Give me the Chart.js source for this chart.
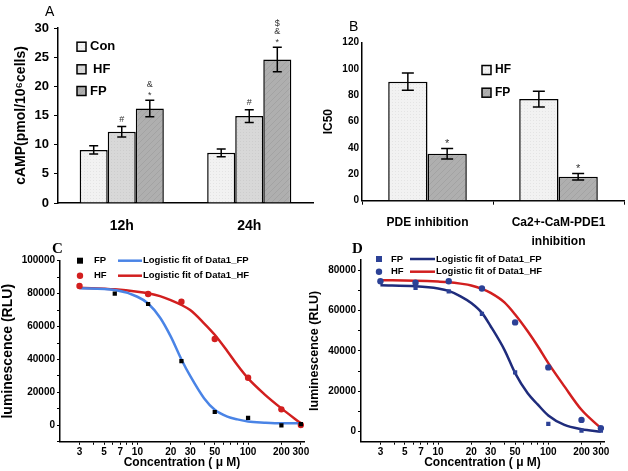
<!DOCTYPE html>
<html>
<head>
<meta charset="utf-8">
<script src="https://cdn.jsdelivr.net/npm/chart.js@4.4.0/dist/chart.umd.min.js"></script>
<style>
  body { margin: 0; background: #fff; }
  #wrap { position: relative; width: 628px; height: 471px; overflow: hidden; }
  canvas { position: absolute; }
  .tag { position: absolute; line-height: 1; color: #000; }
</style>
</head>
<body>
<div id="wrap">
  <canvas id="chartA" width="314" height="240" style="left:0;top:0"></canvas>
  <canvas id="chartB" width="314" height="250" style="left:314px;top:0"></canvas>
  <canvas id="chartC" width="314" height="231" style="left:0;top:240px"></canvas>
  <canvas id="chartD" width="328" height="231" style="left:300px;top:240px"></canvas>
  <div class="tag" style="left:45px;top:3px;font:14px 'Liberation Sans'">A</div>
  <div class="tag" style="left:349px;top:18px;font:14px 'Liberation Sans'">B</div>
  <div class="tag" style="left:52px;top:240px;font:bold 15px 'Liberation Serif'">C</div>
  <div class="tag" style="left:352px;top:240px;font:bold 15px 'Liberation Serif'">D</div>
</div>
<script>
// panel A: cAMP
const timeLabels = ['12h', '24h'];
const conMean = [9.1, 8.6];
const conErr = [0.7, 0.65];
const hfMean = [12.2, 14.9];
const hfErr = [0.9, 1.1];
const fpMean = [16.2, 24.6];
const fpErr = [1.4, 2.1];
const hfMarksA = [['#'], ['#']];
const fpMarksA = [['&', '*'], ['$', '&', '*']];

// panel B: IC50
const assayLabels = ['PDE inhibition', ['Ca2+-CaM-PDE1', 'inhibition']];
const ic50HF = [90.4, 77.2];
const ic50HFErr = [6.5, 6];
const ic50FP = [35.7, 18.2];
const ic50FPErr = [4, 2.5];
const fpMarksB = [['*'], ['*']];

// panels C and D: dose response
const conc = [3, 6.25, 12.5, 25, 50, 100, 200, 300];
const cFP = [null, 80000, 73700, 39000, 8100, 4500, 0, 800];
const cHF = [84600, null, 79800, 75100, 52400, 28900, 9700, 200];
const dFP = [74500, 71200, 69500, 58300, 29300, 3800, 500, 500];
const dHF = [74500, 73700, 74500, 70900, 54100, 31800, 5800, 1700];

// logistic fit curves
const fitConc = [3, 6.25, 10, 12.5, 16, 20, 25, 30, 40, 50, 65, 80, 100, 140, 200, 300];
const cFitFP = [83200, 82200, 78100, 74000, 65500, 54000, 40000, 30000, 16500, 9500, 5300, 3600, 2300, 1600, 1200, 1200];
const cFitHF = [83600, 82600, 81200, 80200, 78500, 76100, 73100, 70000, 62000, 55000, 45000, 36600, 28500, 19000, 10300, 1200];
const dFitFP = [72500, 72000, 70900, 69700, 67000, 63700, 58800, 52200, 40500, 29000, 19000, 13500, 8000, 3300, 1200, 0];
const dFitHF = [75000, 74700, 74300, 74000, 73300, 72400, 70700, 68700, 64000, 58000, 49700, 42400, 33900, 22400, 10800, 1700];

const logTicks = [3, 4, 5, 6, 7, 8, 9, 10, 20, 30, 40, 50, 60, 70, 80, 90, 100, 200, 300];
const logLabels = [3, 5, 7, 10, 20, 30, 50, 100, 200, 300];

const FONT = "'Liberation Sans', Arial, sans-serif";
Chart.defaults.font.family = FONT;
Chart.defaults.font.weight = 'bold';
Chart.defaults.color = '#000';
Chart.defaults.animation = false;

function makePattern(bg, fg, kind) {
  const c = document.createElement('canvas');
  c.width = c.height = kind === 'dots' ? 3 : 6;
  const g = c.getContext('2d');
  g.fillStyle = bg;
  g.fillRect(0, 0, c.width, c.height);
  if (kind === 'dots') {
    g.fillStyle = fg;
    g.fillRect(0, 0, 1, 1);
  } else {
    g.strokeStyle = fg;
    g.lineWidth = 1;
    g.beginPath();
    g.moveTo(0, 6); g.lineTo(6, 0);
    g.moveTo(-1, 1); g.lineTo(1, -1);
    g.moveTo(5, 7); g.lineTo(7, 5);
    g.stroke();
  }
  return g.createPattern(c, 'repeat');
}
const patLight = makePattern('#f2f2f2', '#e4e4e4', 'dots');
const patMid = makePattern('#d8d8d8', '#cdcdcd', 'dots');
const patDark = makePattern('#afafaf', '#a3a3a3', 'hatch');

const errorBars = {
  id: 'errorBars',
  afterDatasetsDraw(chart, args, opts) {
    const ctx = chart.ctx;
    const y = chart.scales.y;
    chart.data.datasets.forEach((ds, i) => {
      chart.getDatasetMeta(i).data.forEach((bar, j) => {
        const v = ds.data[j], e = ds.errors[j];
        const top = y.getPixelForValue(v + e);
        const bot = y.getPixelForValue(v - e);
        ctx.save();
        ctx.strokeStyle = '#000';
        ctx.lineWidth = 1.5;
        ctx.beginPath();
        ctx.moveTo(bar.x, top); ctx.lineTo(bar.x, bot);
        ctx.moveTo(bar.x - opts.cap, top); ctx.lineTo(bar.x + opts.cap, top);
        ctx.moveTo(bar.x - opts.cap, bot); ctx.lineTo(bar.x + opts.cap, bot);
        ctx.stroke();
        const marks = ds.marks ? ds.marks[j] : [];
        ctx.fillStyle = '#333';
        ctx.font = 'normal ' + opts.markSize + 'px ' + FONT;
        ctx.textAlign = 'center';
        ctx.textBaseline = 'middle';
        for (let k = 0; k < marks.length; k++) {
          const m = marks[marks.length - 1 - k];
          ctx.fillText(m, bar.x, top - opts.markGap - k * opts.markStep + (m === '*' ? 2 : 0));
        }
        ctx.restore();
      });
    });
  }
};

const boxLegend = {
  id: 'boxLegend',
  afterDraw(chart, args, opts) {
    const ctx = chart.ctx;
    const s = opts.size;
    chart.data.datasets.forEach((ds, i) => {
      const y = opts.rows[i];
      ctx.save();
      ctx.fillStyle = ds.backgroundColor;
      ctx.fillRect(opts.x, y - s / 2, s, s);
      ctx.strokeStyle = '#000';
      ctx.lineWidth = 1.5;
      ctx.strokeRect(opts.x, y - s / 2, s, s);
      ctx.fillStyle = '#000';
      ctx.font = 'bold ' + opts.fontSize + 'px ' + FONT;
      ctx.textBaseline = 'middle';
      ctx.fillText(ds.label, opts.textX + (opts.shift ? opts.shift[i] : 0), y);
      ctx.restore();
    });
  }
};

const fitLegend = {
  id: 'fitLegend',
  afterDraw(chart, args, opts) {
    const ctx = chart.ctx;
    opts.pairs.forEach((pair, r) => {
      const pt = chart.data.datasets[pair[0]];
      const ln = chart.data.datasets[pair[1]];
      const y = opts.rows[r];
      ctx.save();
      ctx.fillStyle = pt.backgroundColor;
      if (pt.pointStyle === 'rect') {
        ctx.fillRect(opts.markX - 3, y - 3, 6, 6);
      } else {
        ctx.beginPath();
        ctx.arc(opts.markX, y, 3.2, 0, Math.PI * 2);
        ctx.fill();
      }
      ctx.fillStyle = '#000';
      ctx.font = 'bold ' + opts.fontSize + 'px ' + FONT;
      ctx.textBaseline = 'middle';
      ctx.fillText(pt.label, opts.labelX, y);
      ctx.strokeStyle = ln.borderColor;
      ctx.lineWidth = 2.5;
      ctx.beginPath();
      ctx.moveTo(opts.lineX1, y); ctx.lineTo(opts.lineX2, y);
      ctx.stroke();
      ctx.fillText(ln.label, opts.fitX, y);
      ctx.restore();
    });
  }
};

const axisBorder = { color: '#000', width: 1.5 };

new Chart(document.getElementById('chartA'), {
  type: 'bar',
  data: {
    labels: timeLabels,
    datasets: [
      { label: 'Con', data: conMean, errors: conErr, backgroundColor: patLight },
      { label: 'HF', data: hfMean, errors: hfErr, marks: hfMarksA, backgroundColor: patMid },
      { label: 'FP', data: fpMean, errors: fpErr, marks: fpMarksA, backgroundColor: patDark }
    ]
  },
  options: {
    responsive: false,
    layout: { padding: { top: 28, right: 1 } },
    datasets: { bar: { categoryPercentage: 0.66, barPercentage: 1, borderColor: '#000', borderWidth: 1.5 } },
    plugins: {
      legend: { display: false },
      tooltip: { enabled: false },
      errorBars: { cap: 4.5, markSize: 9, markGap: 7, markStep: 8.5 },
      boxLegend: { x: 77, textX: 90, size: 9, fontSize: 13, rows: [46.7, 69.3, 91], shift: [0, 3, 0] }
    },
    scales: {
      x: {
        grid: { display: false, drawTicks: false },
        border: axisBorder,
        ticks: { font: { size: 14 }, padding: 14.6 },
        afterFit: s => { s.height = 37; }
      },
      y: {
        min: 0, max: 30,
        ticks: { stepSize: 5, font: { size: 13 }, padding: 5 },
        grid: { drawOnChartArea: false, tickLength: 4, color: '#000' },
        border: axisBorder,
        title: { display: true, text: 'cAMP(pmol/10⁶cells)', font: { size: 14 }, padding: { top: 13, bottom: 0 } },
        afterFit: s => { s.width = 58; }
      }
    }
  },
  plugins: [errorBars, boxLegend]
});

new Chart(document.getElementById('chartB'), {
  type: 'bar',
  data: {
    labels: assayLabels,
    datasets: [
      { label: 'HF', data: ic50HF, errors: ic50HFErr, backgroundColor: patLight },
      { label: 'FP', data: ic50FP, errors: ic50FPErr, marks: fpMarksB, backgroundColor: patDark }
    ]
  },
  options: {
    responsive: false,
    layout: { padding: { top: 42.7, right: 4 } },
    datasets: { bar: { categoryPercentage: 0.6, barPercentage: 1, borderColor: '#000', borderWidth: 1.5 } },
    plugins: {
      legend: { display: false },
      tooltip: { enabled: false },
      errorBars: { cap: 6, markSize: 11, markGap: 6, markStep: 8 },
      boxLegend: { x: 168, textX: 181, size: 9, fontSize: 12, rows: [70, 92.7] }
    },
    scales: {
      x: {
        grid: { drawOnChartArea: false, tickLength: 4, color: '#000' },
        border: axisBorder,
        ticks: { font: { size: 12, lineHeight: 1.6 }, padding: 8.2, maxRotation: 0, autoSkip: false },
        afterFit: s => { s.height = 49.3; }
      },
      y: {
        min: 0, max: 120,
        ticks: { stepSize: 20, font: { size: 10 }, padding: 3 },
        grid: { drawOnChartArea: false, drawTicks: false },
        border: axisBorder,
        title: { display: true, text: 'IC50', font: { size: 12 }, padding: { top: 7, bottom: 0 } },
        afterFit: s => { s.width = 48; }
      }
    }
  },
  plugins: [errorBars, boxLegend]
});

function toXY(xs, ys) {
  return xs.map((x, i) => ({ x: x, y: ys[i] })).filter(p => p.y !== null);
}

function doseChart(id, cfg) {
  return new Chart(document.getElementById(id), {
    type: 'scatter',
    data: {
      datasets: [
        { label: 'FP', data: toXY(conc, cfg.fp), pointStyle: 'rect', pointRadius: 3, pointBorderWidth: 0,
          backgroundColor: cfg.fpPoint, borderColor: cfg.fpPoint, order: 0 },
        { label: 'HF', data: toXY(conc, cfg.hf), pointStyle: 'circle', pointRadius: 3.2, pointBorderWidth: 0,
          backgroundColor: cfg.hfPoint, borderColor: cfg.hfPoint, order: 0 },
        { label: 'Logistic fit of Data1_FP', data: toXY(fitConc, cfg.fitFP), showLine: true, pointRadius: 0,
          borderColor: cfg.fpLine, borderWidth: 2.5, cubicInterpolationMode: 'monotone', order: 1 },
        { label: 'Logistic fit of Data1_HF', data: toXY(fitConc, cfg.fitHF), showLine: true, pointRadius: 0,
          borderColor: '#d21f1f', borderWidth: 2.5, cubicInterpolationMode: 'monotone', order: 1 }
      ]
    },
    options: {
      responsive: false,
      layout: { padding: { top: cfg.top, right: cfg.right } },
      plugins: {
        legend: { display: false },
        tooltip: { enabled: false },
        fitLegend: cfg.legend
      },
      scales: {
        x: {
          type: 'logarithmic', min: 2, max: 320,
          afterBuildTicks: s => { s.ticks = logTicks.map(v => ({ value: v })); },
          ticks: { autoSkip: false, maxRotation: 0, font: { size: 10 }, padding: 1.5,
                   callback: v => logLabels.includes(v) ? String(v) : '' },
          grid: { drawOnChartArea: false, tickLength: 3, color: '#000' },
          border: axisBorder,
          title: { display: true, text: 'Concentration ( μ M)', font: { size: 12 }, padding: { top: 0, bottom: 1 } },
          afterFit: s => { s.height = cfg.xHeight; }
        },
        y: {
          min: cfg.yMin, max: cfg.yMax,
          afterBuildTicks: s => { s.ticks = cfg.yTicks.map(v => ({ value: v })); },
          ticks: { font: { size: 10 }, padding: 2, callback: v => v % 20000 === 0 ? String(v) : '' },
          grid: { drawOnChartArea: false, tickLength: 3, color: '#000' },
          border: axisBorder,
          title: { display: true, text: 'luminescence (RLU)', font: { size: cfg.titleSize }, padding: { top: cfg.titlePad, bottom: 0 } },
          afterFit: s => { s.width = cfg.yWidth; }
        }
      }
    },
    plugins: [fitLegend]
  });
}

doseChart('chartC', {
  fp: cFP, hf: cHF, fitFP: cFitFP, fitHF: cFitHF,
  fpPoint: '#000', hfPoint: '#d21f1f', fpLine: '#4a84e6',
  top: 20.7, right: 10, xHeight: 29.2, yWidth: 60, titleSize: 14, titlePad: 0,
  yMin: -10000, yMax: 100000,
  yTicks: [-10000, 0, 10000, 20000, 30000, 40000, 50000, 60000, 70000, 80000, 90000, 100000],
  legend: { pairs: [[0, 2], [1, 3]], rows: [20.7, 35.7], markX: 80, labelX: 94, lineX1: 118, lineX2: 142, fitX: 143, fontSize: 9.5 }
});

doseChart('chartD', {
  fp: dFP, hf: dHF, fitFP: dFitFP, fitHF: dFitHF,
  fpPoint: '#2c4196', hfPoint: '#2c4196', fpLine: '#1f2c7c',
  top: 20, right: 24, xHeight: 29.3, yWidth: 61, titleSize: 12.5, titlePad: 7,
  yMin: -5000, yMax: 85000,
  yTicks: [0, 10000, 20000, 30000, 40000, 50000, 60000, 70000, 80000],
  legend: { pairs: [[0, 2], [1, 3]], rows: [19, 31.7], markX: 79, labelX: 91, lineX1: 110, lineX2: 135, fitX: 136, fontSize: 9.5 }
});
</script>
</body>
</html>
